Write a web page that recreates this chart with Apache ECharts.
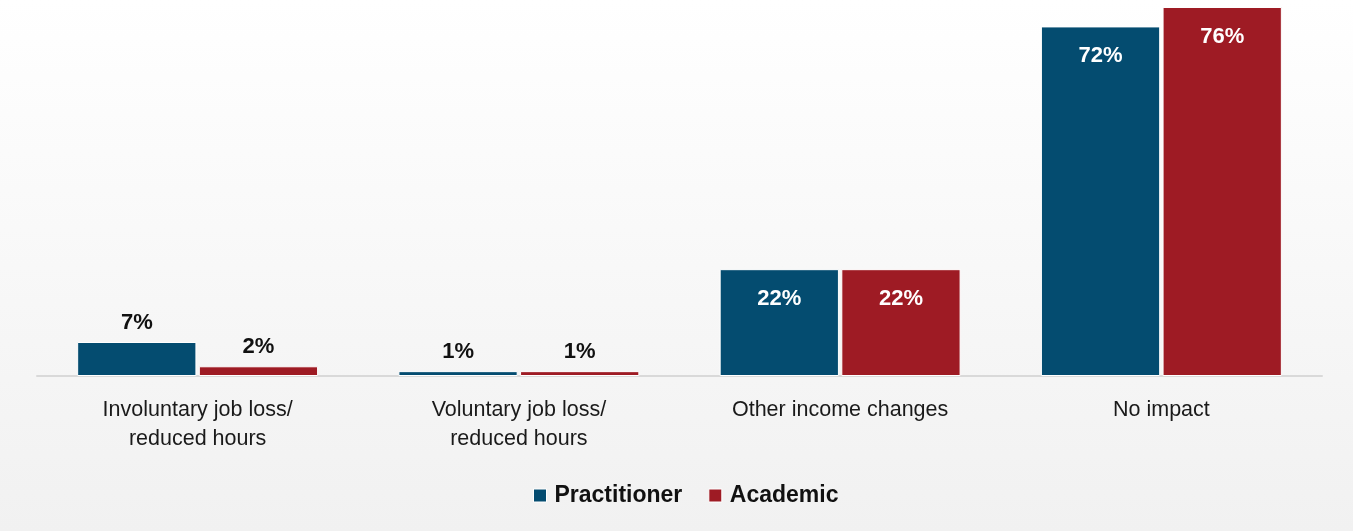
<!DOCTYPE html>
<html>
<head>
<meta charset="utf-8">
<script src="https://cdn.jsdelivr.net/npm/echarts@6/dist/echarts.min.js"></script>
<style>
  html, body { margin: 0; padding: 0; }
  #chart { width: 1353px; height: 531px; background: linear-gradient(to bottom, #ffffff 0%, #f1f1f1 100%); }
</style>
</head>
<body>
<div id="chart"></div>
<script>
// Income impact by respondent group (percent of respondents)
const categories = ['Involuntary job loss/\nreduced hours', 'Voluntary job loss/\nreduced hours', 'Other income changes', 'No impact'];
const practitioner = [7, 1, 22, 72];
const academic = [2, 1, 22, 76];
const seriesNames = ['Practitioner', 'Academic'];

const FONT = '"Liberation Sans Narrow", "Arial Narrow", "Liberation Sans", Arial, sans-serif';
const INSIDE_FROM = 10; // values at or above this get their label inside the bar

function makeLabelled(values) {
  return values.map(v => ({
    value: v,
    label: v >= INSIDE_FROM
      ? { position: 'insideTop', distance: 19, color: '#ffffff' }
      : { position: 'top', distance: 8, color: '#111111' }
  }));
}

const chart = echarts.init(document.getElementById('chart'), null, { renderer: 'canvas' });
chart.setOption({
  backgroundColor: 'transparent',
  animation: false,
  textStyle: { fontFamily: FONT },
  grid: { left: 37, right: 31, top: 7, bottom: 155 },
  legend: {
    data: seriesNames,
    bottom: 19,
    left: 528,
    itemWidth: 13,
    itemHeight: 13,
    itemGap: 26,
    icon: 'rect',
    itemStyle: { borderColor: '#ffffff', borderWidth: 1 },
    textStyle: { fontFamily: FONT, fontSize: 23, fontWeight: 'bold', color: '#111111', padding: [0, 0, 0, 3] }
  },
  xAxis: {
    type: 'category',
    data: categories,
    axisLine: { lineStyle: { color: '#d9d9d9', width: 2 } },
    axisTick: { show: false },
    axisLabel: { fontFamily: FONT, fontSize: 21.5, color: '#1a1a1a', lineHeight: 29, margin: 20, interval: 0 }
  },
  yAxis: {
    type: 'value',
    min: 0,
    max: 76,
    show: false,
    splitLine: { show: false }
  },
  series: [
    {
      name: seriesNames[0],
      type: 'bar',
      data: makeLabelled(practitioner),
      barGap: '2%',
      barCategoryGap: '25%',
      itemStyle: { color: '#044c70', borderColor: '#ffffff', borderWidth: 1 },
      label: { show: true, formatter: '{c}%', fontFamily: FONT, fontSize: 22, fontWeight: 'bold' }
    },
    {
      name: seriesNames[1],
      type: 'bar',
      data: makeLabelled(academic),
      barGap: '2%',
      barCategoryGap: '25%',
      itemStyle: { color: '#9e1b24', borderColor: '#ffffff', borderWidth: 1 },
      label: { show: true, formatter: '{c}%', fontFamily: FONT, fontSize: 22, fontWeight: 'bold' }
    }
  ]
});
</script>
</body>
</html>
